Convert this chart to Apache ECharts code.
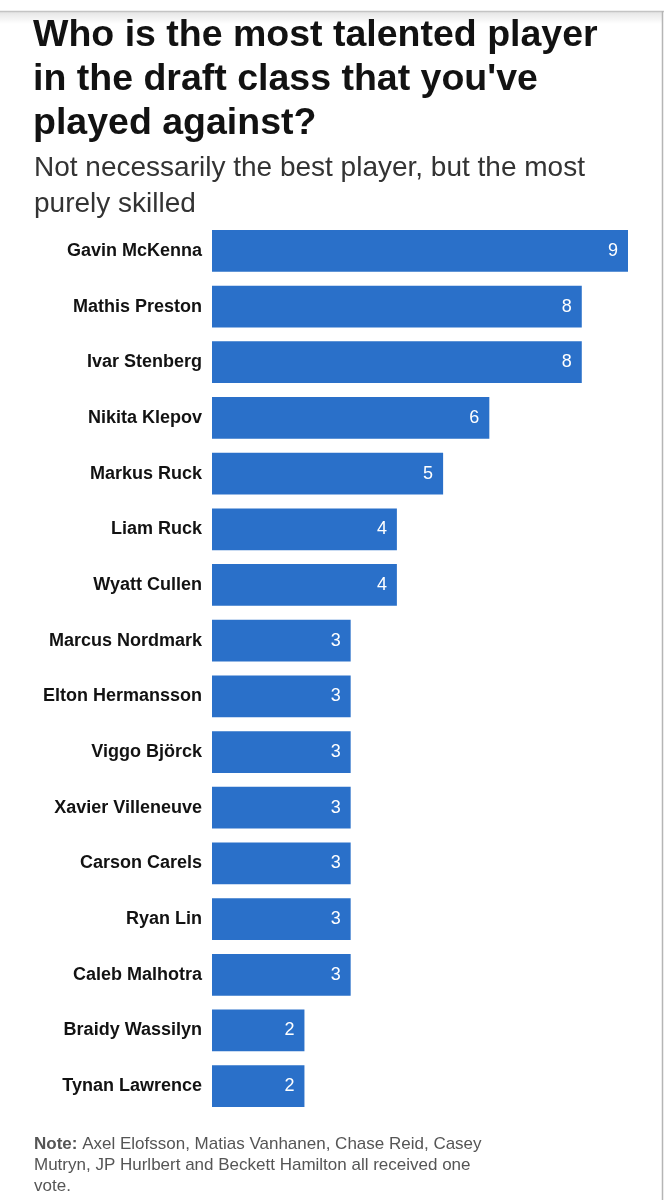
<!doctype html>
<html>
<head>
    <meta charset="UTF-8">
    <script src="https://cdn.jsdelivr.net/npm/echarts@6/dist/echarts.min.js"></script>
    <style>
        html, body { margin: 0; padding: 0; background: #fff; }
        #chart { width: 664px; height: 1200px; }
    </style>
</head>
<body>
<div id="chart"></div>
<script type="text/javascript">
    // 数据
    var players = ['Gavin McKenna', 'Mathis Preston', 'Ivar Stenberg', 'Nikita Klepov', 'Markus Ruck',
        'Liam Ruck', 'Wyatt Cullen', 'Marcus Nordmark', 'Elton Hermansson', 'Viggo Björck',
        'Xavier Villeneuve', 'Carson Carels', 'Ryan Lin', 'Caleb Malhotra', 'Braidy Wassilyn', 'Tynan Lawrence'];
    var votes = [9, 8, 8, 6, 5, 4, 4, 3, 3, 3, 3, 3, 3, 3, 2, 2];

    var titleText = "Who is the most talented player\nin the draft class that you've\nplayed against?";
    var subText = 'Not necessarily the best player, but the most\npurely skilled';
    var noteText = '{b|Note:} Axel Elofsson, Matias Vanhanen, Chase Reid, Casey\nMutryn, JP Hurlbert and Beckett Hamilton all received one\nvote.';

    var font = 'Liberation Sans, Arial, sans-serif';
    var myChart = echarts.init(document.getElementById('chart'));

    var option = {
        backgroundColor: '#fff',
        animation: false,
        title: [{
            text: titleText,
            left: 33,
            top: 14,
            padding: 0,
            textStyle: {
                fontFamily: font,
                fontSize: 37.5,
                fontWeight: 'bold',
                lineHeight: 44,
                color: '#121212'
            }
        }, {
            text: subText,
            left: 34,
            top: 150,
            padding: 0,
            textStyle: {
                fontFamily: font,
                fontSize: 28,
                fontWeight: 'normal',
                lineHeight: 36,
                color: '#333'
            }
        }, {
            text: noteText,
            left: 34,
            top: 1134,
            padding: 0,
            textStyle: {
                fontFamily: font,
                fontSize: 17,
                fontWeight: 'normal',
                lineHeight: 21,
                color: '#555',
                rich: {
                    b: { fontWeight: 'bold', fontSize: 17, color: '#555', fontFamily: font }
                }
            }
        }],
        grid: {
            left: 212,
            right: 36,
            top: 223,
            bottom: 86,
            containLabel: false
        },
        xAxis: {
            type: 'value',
            min: 0,
            max: 9,
            show: false
        },
        yAxis: {
            type: 'category',
            inverse: true,
            data: players,
            axisLine: { show: false },
            axisTick: { show: false },
            axisLabel: {
                margin: 10,
                fontFamily: font,
                fontSize: 18,
                fontWeight: 'bold',
                color: '#121212'
            }
        },
        series: [{
            type: 'bar',
            data: votes,
            barCategoryGap: '25%',
            itemStyle: { color: '#2a70c9' },
            label: {
                show: true,
                position: 'insideRight',
                distance: 10,
                fontFamily: font,
                fontSize: 18,
                color: '#fff'
            }
        }],
        graphic: [{
            type: 'rect',
            shape: { x: 0, y: 12, width: 662, height: 12 },
            style: {
                fill: new echarts.graphic.LinearGradient(0, 0, 0, 1, [
                    { offset: 0, color: 'rgba(0,0,0,0.10)' },
                    { offset: 1, color: 'rgba(0,0,0,0)' }
                ])
            },
            z: -1
        }, {
            type: 'line',
            shape: { x1: 0, y1: 11.5, x2: 664, y2: 11.5 },
            style: { stroke: '#c4c4c4', lineWidth: 1.5 }
        }, {
            type: 'line',
            shape: { x1: 662.5, y1: 11, x2: 662.5, y2: 1200 },
            style: { stroke: '#b5b5b5', lineWidth: 1.5 }
        }]
    };

    myChart.setOption(option);
</script>
</body>
</html>
